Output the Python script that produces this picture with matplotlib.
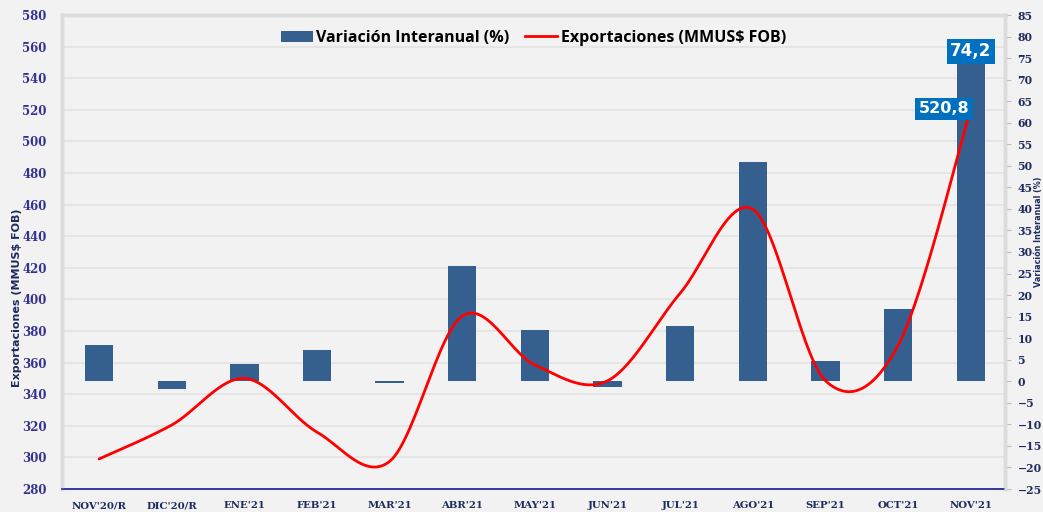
import numpy as np
import matplotlib
matplotlib.use("Agg")
import matplotlib.pyplot as plt
from matplotlib.lines import Line2D
from matplotlib.patches import Patch
from matplotlib.transforms import blended_transform_factory

categories = ["NOV'20/R", "DIC'20/R", "ENE'21", "FEB'21", "MAR'21", "ABR'21", "MAY'21",
              "JUN'21", "JUL'21", "AGO'21", "SEP'21", "OCT'21", "NOV'21"]
variacion = [8.4, -1.9, 3.9, 7.2, -0.4, 26.7, 11.8, -1.4, 12.8, 50.8, 4.6, 16.7, 74.2]
exportaciones = [299.0, 320.5, 350.0, 316.0, 297.5, 389.5, 358.5, 348.5, 404.0, 457.0, 348.5, 371.0, 520.8]
left_ticks = list(range(280, 581, 20))
right_ticks = list(range(-25, 86, 5))

BG = "#F2F2F2"
BAR = "#355F8F"
NAVY = "#1F2B5E"
TICKBLUE = "#33338F"

fig = plt.figure(figsize=(10.43, 5.12), dpi=100, facecolor=BG)
ax = fig.add_axes([62/1043, 1-489/512, (1005-62)/1043, (489-15)/512])
ax.set_facecolor(BG)
axL = ax.twinx()

x = np.arange(len(categories))

# bars on right-scale axes
ax.bar(x, variacion, width=0.39, color=BAR, zorder=3)
ax.set_ylim(-25, 85)
ax.set_yticks(right_ticks)
ax.set_xlim(-0.51, 12.47)
ax.yaxis.tick_right()
ax.tick_params(axis='y', which='major', length=4, color="#BBBBBB", pad=5,
               labelsize=7.8, labelcolor=NAVY)
for t in ax.get_yticklabels():
    t.set_fontfamily("DejaVu Serif"); t.set_fontweight("bold")

ax.set_xticks(x)
ax.set_xticklabels(categories, fontsize=7.3, fontweight="bold", color=NAVY, fontfamily="DejaVu Serif")
ax.tick_params(axis='x', length=0, pad=9)

# line on left-scale axes
axL.set_ylim(280, 580)
axL.set_yticks(left_ticks)
axL.yaxis.tick_left()
axL.tick_params(axis='y', length=0, pad=11, labelsize=8.5, labelcolor=TICKBLUE)
for t in axL.get_yticklabels():
    t.set_fontfamily("DejaVu Serif"); t.set_fontweight("bold")

# gridlines at left ticks, drawn behind bars
trans = blended_transform_factory(ax.transAxes, axL.transData)
for v in left_ticks[1:-1]:
    ax.add_line(Line2D([0, 1], [v, v], transform=trans, color="#E3E3E3", lw=1.2, zorder=1))

# smooth curve (Catmull-Rom style cubic Bezier through data points)
px = x.astype(float); py = np.array(exportaciones, dtype=float)
cx, cy = [], []
n = len(px)
for i in range(n - 1):
    p0 = (px[max(i-1, 0)], py[max(i-1, 0)])
    p1 = (px[i], py[i]); p2 = (px[i+1], py[i+1])
    p3 = (px[min(i+2, n-1)], py[min(i+2, n-1)])
    c1 = (p1[0] + (p2[0]-p0[0])/6, p1[1] + (p2[1]-p0[1])/6)
    c2 = (p2[0] - (p3[0]-p1[0])/6, p2[1] - (p3[1]-p1[1])/6)
    t = np.linspace(0, 1, 30)
    bx = (1-t)**3*p1[0] + 3*(1-t)**2*t*c1[0] + 3*(1-t)*t**2*c2[0] + t**3*p2[0]
    by = (1-t)**3*p1[1] + 3*(1-t)**2*t*c1[1] + 3*(1-t)*t**2*c2[1] + t**3*p2[1]
    cx.extend(bx); cy.extend(by)
axL.plot(cx, cy, color="#FF0000", lw=2, zorder=5, solid_capstyle="round")

# spines
for a in (ax, axL):
    for s in ("left", "right", "top"):
        a.spines[s].set_color("#DCDCDC"); a.spines[s].set_linewidth(2.5)
    a.spines["bottom"].set_color("#3A3AA0")
    a.spines["bottom"].set_linestyle((0, (1.5, 1)))
    a.spines["bottom"].set_linewidth(1.3)

# annotations
ax.text(12, 76.6, "74,2", ha="center", va="center", fontsize=12, fontweight="bold", color="white",
        bbox=dict(boxstyle="square,pad=0.22", fc="#0070C0", ec="none"), zorder=6)
axL.text(11.63, 520.8, "520,8", ha="center", va="center", fontsize=11.5, fontweight="bold", color="white",
         bbox=dict(boxstyle="square,pad=0.22", fc="#0070C0", ec="none"), zorder=6)

# legend
handles = [Patch(facecolor=BAR, edgecolor="none"), Line2D([0], [0], color="#FF0000", lw=2)]
leg = axL.legend(handles, ["Variación Interanual (%)", "Exportaciones (MMUS$ FOB)"],
                 loc="center", bbox_to_anchor=(0.5, 0.952), ncol=2, frameon=False,
                 prop={"weight": "bold", "size": 11.5, "family": "Open Sans"},
                 handlelength=2.0, handletextpad=0.2, columnspacing=1.0)
for t in leg.get_texts():
    t.set_color("black")

# axis titles
fig.text(17/1043, 1-298/512, "Exportaciones (MMUS$ FOB)", rotation=90, ha="center", va="center",
         fontsize=8, fontweight="bold", color=NAVY)
fig.text(1039/1043, 1-232/512, "Variación Interanual (%)", rotation=90, ha="center", va="center",
         fontsize=5.8, fontweight="bold", color=NAVY)

fig.savefig("out.png", dpi=100, facecolor=BG)
